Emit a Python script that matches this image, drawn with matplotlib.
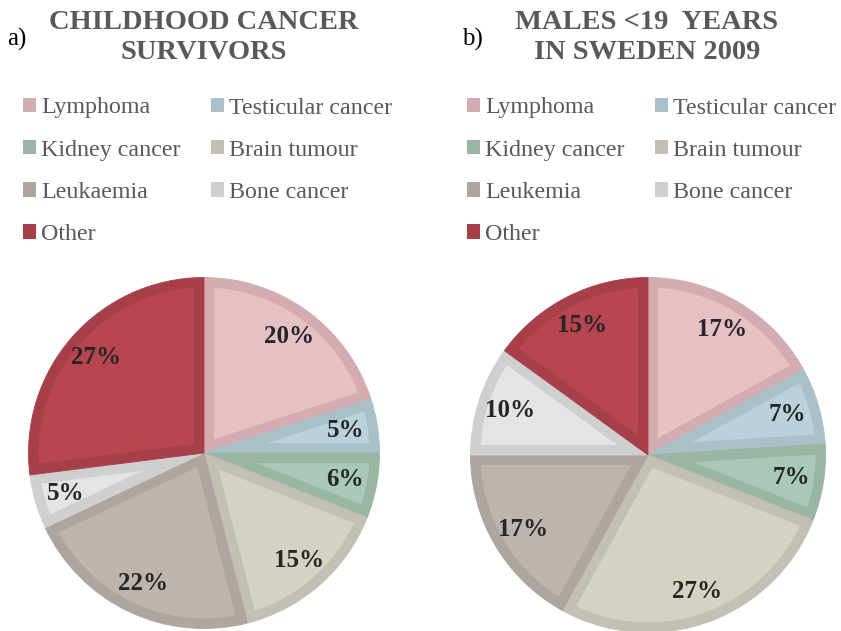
import matplotlib
matplotlib.use('Agg')
import numpy as np
import matplotlib.pyplot as plt
from matplotlib.patches import Patch, Polygon

categories_a = ['Lymphoma', 'Testicular cancer', 'Kidney cancer', 'Brain tumour',
                'Leukaemia', 'Bone cancer', 'Other']
categories_b = ['Lymphoma', 'Testicular cancer', 'Kidney cancer', 'Brain tumour',
                'Leukemia', 'Bone cancer', 'Other']
values_a = [20, 5, 6, 15, 22, 5, 27]
values_b = [17, 7, 7, 27, 17, 10, 15]
fill_colors = ['#E5C1C5', '#B8D1DA', '#A9C9B8', '#D5D2C3', '#BDB5AD', '#E4E4E4', '#B84550']
edge_colors = ['#D3ABB0', '#A8C1C9', '#99B5A3', '#C3BFB2', '#ADA59E', '#D0CFD0', '#A63F48']
title_a = 'CHILDHOOD CANCER\nSURVIVORS'
title_b = 'MALES <19  YEARS\nIN SWEDEN 2009'

SERIF = ['Liberation Serif', 'DejaVu Serif']
plt.rcParams['font.family'] = SERIF

W, H = 841, 631
fig = plt.figure(figsize=(W / 100, H / 100), dpi=100)


def inset(ax, w, t, color):
    """Lighter inner region of a wedge, leaving a border of width t inside it."""
    cx, cy = w.center
    r = w.r
    a1, a2 = np.radians(w.theta1), np.radians(w.theta2)
    half = (a2 - a1) / 2
    mid = a1 + half
    d = t / np.sin(half)
    ri = r - t
    b1 = a1 + np.arcsin(t / ri)
    b2 = a2 - np.arcsin(t / ri)
    angs = np.linspace(b1, b2, 120)
    pts = [(cx + d * np.cos(mid), cy + d * np.sin(mid))]
    pts += list(zip(cx + ri * np.cos(angs), cy + ri * np.sin(angs)))
    ax.add_patch(Polygon(pts, closed=True, facecolor=color, edgecolor='none', zorder=1.5))


def draw(cx, cy, r, values, cats, title, title_x, panel, panel_x, leg_x, leg_y):
    ax = fig.add_axes([(cx - r) / W, (H - cy - r) / H, 2 * r / W, 2 * r / H])
    wedges, texts, autotexts = ax.pie(
        values, colors=edge_colors, startangle=90, counterclock=False,
        autopct='%1.0f%%', pctdistance=0.82,
        wedgeprops=dict(linewidth=0.6),
        textprops=dict(fontsize=18, fontweight='bold', color='#262626', family=SERIF))
    for w, ec, fc in zip(wedges, edge_colors, fill_colors):
        w.set_edgecolor(ec)
        inset(ax, w, 10.0 / r, fc)
    for t in autotexts:
        t.set_zorder(5)
    ax.set_xlim(-1, 1)
    ax.set_ylim(-1, 1)
    ax.axis('off')

    fig.text(title_x / W, 1 - 37.5 / H, title, ha='center', va='center',
             fontsize=20.5, fontweight='bold', color='#595959', linespacing=1.28)
    fig.text(panel_x / W, 1 - 39 / H, panel, ha='left', va='center',
             fontsize=18, color='#000000')

    order = [0, 2, 4, 6, 1, 3, 5]
    handles = [Patch(facecolor=edge_colors[i], edgecolor='none') for i in order]
    labels = [cats[i] for i in order]
    fig.legend(handles, labels, loc='upper left',
               bbox_to_anchor=(leg_x / W, 1 - leg_y / H), bbox_transform=fig.transFigure,
               ncol=2, frameon=False, prop={'family': SERIF, 'size': 17.3},
               labelcolor='#595959',
               handlelength=0.55, handleheight=0.55, handletextpad=0.2,
               columnspacing=1.28, labelspacing=0.88, borderpad=0, borderaxespad=0)


draw(204, 453, 175.5, values_a, categories_a, title_a, 204, 'a)', 7, 23, 97.5)
draw(648, 455, 177.5, values_b, categories_b, title_b, 647, 'b)', 462, 467, 97.5)

fig.savefig('out.png', dpi=100)
